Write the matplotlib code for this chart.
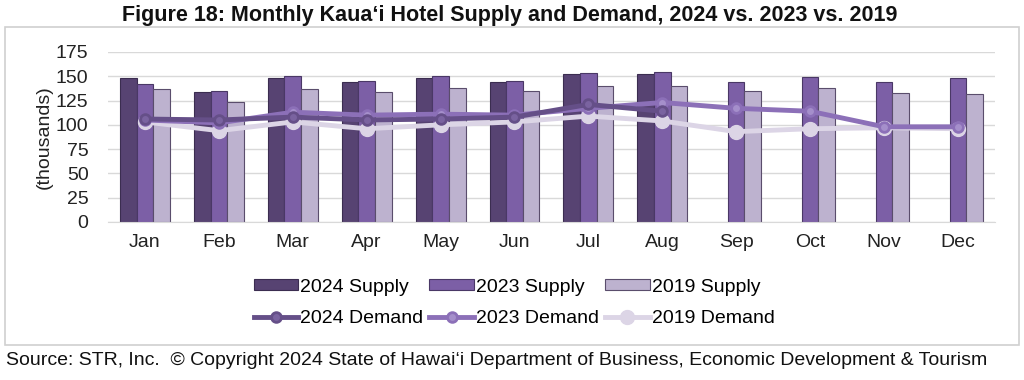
import numpy as np
import matplotlib.pyplot as plt
from matplotlib.patches import Rectangle

plt.rcParams['font.family'] = ['Liberation Sans', 'DejaVu Sans']

months = ['Jan', 'Feb', 'Mar', 'Apr', 'May', 'Jun', 'Jul', 'Aug', 'Sep', 'Oct', 'Nov', 'Dec']

# thousands of room nights
supply_2024 = [148, 134, 148, 144, 148, 144, 152, 152, None, None, None, None]
supply_2023 = [142, 135, 150, 145, 150, 145, 153, 154, 144, 149, 144, 148]
supply_2019 = [137, 124, 137, 134, 138, 135, 140, 140, 135, 138, 133, 132]

demand_2024 = [106, 105, 108, 105, 106, 108, 121, 114, None, None, None, None]
demand_2023 = [105, 102, 113, 110, 111, 110, 117, 123, 117, 114, 98, 98]
demand_2019 = [103, 94, 103, 96, 100, 103, 109, 104, 93, 96, 97, 96]

c24 = '#574372'
c23 = '#7c5fa6'
c19 = '#bdb2cf'
l24 = '#654f88'
l23 = '#8c70b8'
l19 = '#dcd5e6'


def arr(v):
    return np.array([np.nan if x is None else x for x in v], dtype=float)


fig = plt.figure(figsize=(10.24, 3.8), dpi=100)
ax = fig.add_axes([0.1055, 0.4158, 0.866, 0.4474])

x = np.arange(len(months))
w = 0.225
ax.bar(x - w, arr(supply_2024), w, color=c24, edgecolor='#3b2d50', linewidth=0.8, label='2024 Supply', zorder=2)
ax.bar(x, arr(supply_2023), w, color=c23, edgecolor='#4a3866', linewidth=0.8, label='2023 Supply', zorder=2)
ax.bar(x + w, arr(supply_2019), w, color=c19, edgecolor='#5a4d6c', linewidth=0.8, label='2019 Supply', zorder=2)

ax.plot(x, arr(demand_2019), color=l19, linewidth=3.5, marker='o', markersize=10,
        markerfacecolor=l19, markeredgecolor=l19, label='2019 Demand', zorder=3)
ax.plot(x, arr(demand_2023), color=l23, linewidth=3.5, marker='o', markersize=7,
        markerfacecolor='#a58fcb', markeredgecolor=l23, markeredgewidth=2, label='2023 Demand', zorder=4)
ax.plot(x, arr(demand_2024), color=l24, linewidth=3.5, marker='o', markersize=7,
        markerfacecolor='#7a63a0', markeredgecolor=l24, markeredgewidth=2, label='2024 Demand', zorder=5)

ax.set_ylim(0, 175)
ax.set_yticks(np.arange(0, 176, 25))
ax.set_xlim(-0.5, 11.5)
ax.set_xticks(x)
ax.set_xticklabels(months)
ax.tick_params(axis='both', length=0, labelsize=14, colors='#222222')
ax.tick_params(axis='x', pad=9)
ax.tick_params(axis='y', pad=14)
ax.grid(axis='y', color='#d9d9d9', linewidth=1, zorder=0)
ax.set_axisbelow(True)
for s in ['top', 'right', 'left']:
    ax.spines[s].set_visible(False)
ax.spines['bottom'].set_color('#d9d9d9')
ax.set_ylabel('(thousands)', fontsize=14, color='#222222', labelpad=2)

h, lab = ax.get_legend_handles_labels()
order = ['2024 Supply', '2024 Demand', '2023 Supply', '2023 Demand', '2019 Supply', '2019 Demand']
hd = dict(zip(lab, h))
fig.legend([hd[k] for k in order], order, loc='center', bbox_to_anchor=(0.502, 0.203), ncol=3,
           frameon=False, fontsize=14, handlelength=2.3, handleheight=0.5,
           columnspacing=0.3, handletextpad=0.1, labelspacing=0.75, borderpad=0)

fig.patches.append(Rectangle((0.005, 0.092), 0.99, 0.837, transform=fig.transFigure,
                             fill=False, edgecolor='#d0d0d0', linewidth=1.2))

fig.text(0.498, 0.96, 'Figure 18: Monthly Kaua\u2018i Hotel Supply and Demand, 2024 vs. 2023 vs. 2019',
         ha='center', va='center', fontsize=15.5, fontweight='bold', color='#111111')
fig.text(0.006, 0.052, 'Source: STR, Inc.  \u00a9 Copyright 2024 State of Hawai\u2018i Department of Business, Economic Development & Tourism',
         ha='left', va='center', fontsize=14, color='#111111')

fig.savefig('out.png', dpi=100)
